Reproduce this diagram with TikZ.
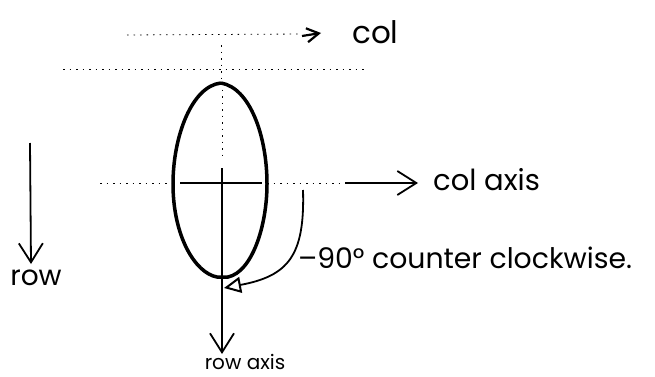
\documentclass[tikz,border=0pt]{standalone}
\usepackage{fontspec}
\setmainfont{Poppins}
\usetikzlibrary{arrows.meta}
\tikzset{
  dotline/.style={line width=0.8pt, dash pattern=on 1.5pt off 5pt},
  axisline/.style={line width=1.8pt},
  vhead/.style={-{Straight Barb[length=19pt,width=24pt,line width=1.8pt]}},
  openhead/.style={-{Triangle[open,length=17pt,width=16pt,line width=2pt]}},
  lbl/.style={inner sep=0pt, font=\fontsize{29}{31}\selectfont},
}

\begin{document}
\begin{tikzpicture}[x=1pt, y=1pt]
  \useasboundingbox (0,0) rectangle (655,376);
  % reference points
  \coordinate (ctr) at (222,193);
  \coordinate (topL) at (127,341);
  \coordinate (topR) at (321,343);
  \coordinate (dashL) at (63,307);
  \coordinate (dashR) at (365,307);
  \coordinate (axL) at (100,193);
  \coordinate (axR) at (418,193);
  \coordinate (axB) at (222,22);
  \coordinate (rowT) at (30,233);
  \coordinate (rowB) at (31,112);
  \coordinate (rotS) at (303,186);
  \coordinate (rotE) at (224,88);

  % labels
  \node[lbl, anchor=west, font=\fontsize{31}{33}\selectfont] (col) at (352,344) {col};
  \node[lbl, anchor=west] (colaxis) at (433,196) {col axis};
  \node[lbl, anchor=north, font=\fontsize{28}{30}\selectfont] (row) at (36,106) {row};
  \node[lbl, anchor=north, font=\fontsize{20}{22}\selectfont] (rowaxis) at (245,22) {row axis};
  \node[lbl, anchor=west, font=\fontsize{28.3}{30}\selectfont] (rot) at (298,118) {--90\textdegree\ counter clockwise.};

  % top guide lines
  \draw[dotline] (topL) -- (302,342);
  \draw[line width=2.2pt, -{Straight Barb[length=12pt,width=14pt]}] (302,340) -- (topR);
  \draw[dotline] (dashL) -- (dashR);
  \draw[dotline] (221,331) -- (221,293);

  % the ellipse
  \draw[line width=3.5pt] (221,293) .. controls (192,290) and (173,240) .. (173,192)
    .. controls (173,140) and (195,103) .. (217,99) -- (228,99)
    .. controls (252,104) and (267,150) .. (267,192)
    .. controls (267,240) and (250,288) .. (221,293);

  % axes
  \draw[dotline] (axL) -- (173,193);
  \draw[axisline, line width=2.5pt] (180,193) -- (262,193);
  \draw[dotline] (267,193) -- (345,193);
  \draw[axisline, vhead] (345,193) -- (axR);
  \draw[dotline] (222,293) -- (222,215);
  \draw[axisline] (222,208) -- (222,178);
  \draw[axisline, vhead] (222,178) -- (axB);
  \draw[axisline, vhead] (rowT) -- (rowB);

  % rotation
  \draw[axisline, openhead] (rotS) .. controls (305,120) and (288,100) .. (rotE);
\end{tikzpicture}
\end{document}
